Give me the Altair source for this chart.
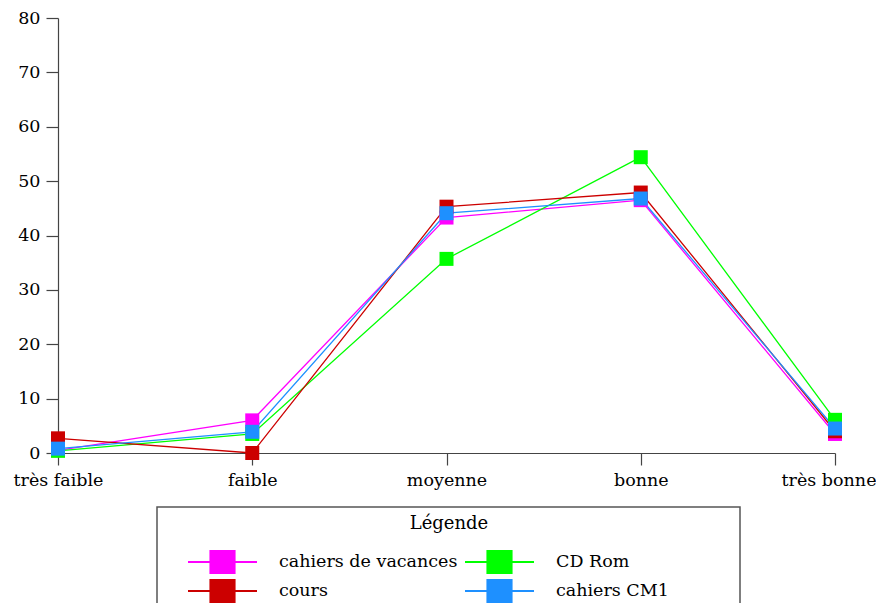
import altair as alt
import pandas as pd

categories = ["très faible", "faible", "moyenne", "bonne", "très bonne"]
legend_order = ["cahiers de vacances", "cours", "CD Rom", "cahiers CM1"]
legend_colors = ["#FF00FF", "#CC0000", "#00FF00", "#1E90FF"]
draw_order = ["cahiers de vacances", "CD Rom", "cours", "cahiers CM1"]
legend_title = ["Légende"]
vacances = [0.5, 6.0, 43.3, 46.5, 3.5]
cdrom = [0.4, 3.5, 35.7, 54.4, 6.1]
cours = [2.7, 0.0, 45.3, 47.9, 4.0]
cm1 = [0.8, 3.9, 44.1, 46.8, 4.5]

series_values = {
    "cahiers de vacances": vacances,
    "CD Rom": cdrom,
    "cours": cours,
    "cahiers CM1": cm1,
}
rows = []
for si, name in enumerate(draw_order):
    for cat, v in zip(categories, series_values[name]):
        rows.append({"niveau": cat, "série": name, "valeur": v, "ordre": si})
df = pd.DataFrame(rows)

FONT = "DejaVu Serif"
FS = 17.5
symbol_path = "M-1,0H1M-0.35,-0.35H0.35V0.35H-0.35Z"

color = alt.Color(
    "série:N",
    scale=alt.Scale(domain=legend_order, range=legend_colors),
    legend=alt.Legend(
        title=None,
        orient="none",
        legendX=129,
        legendY=532,
        columns=2,
        symbolType=symbol_path,
        symbolSize=4761,
        symbolStrokeWidth=2,
        clipHeight=24,
        rowPadding=5,
        columnPadding=6,
        labelOffset=21,
        padding=0,
        labelFont=FONT,
        labelFontSize=FS,
        labelColor="#000000",
        labelLimit=400,
    ),
)

x = alt.X(
    "niveau:N",
    sort=categories,
    scale=alt.Scale(type="point", padding=0),
    axis=alt.Axis(
        title=None,
        labelAngle=0,
        labelFont=FONT,
        labelFontSize=FS,
        labelColor="#000000",
        labelPadding=6,
        labelAlign=alt.condition("datum.label == 'très bonne'", alt.value("right"), alt.value("center")),
        labelOffset=alt.condition("datum.label == 'très bonne'", alt.value(41), alt.value(0)),
        tickSize=12,
        tickColor="#444444",
        domainColor="#444444",
        grid=False,
    ),
)
y = alt.Y(
    "valeur:Q",
    scale=alt.Scale(domain=[0, 80], nice=False),
    axis=alt.Axis(
        title=None,
        values=[0, 10, 20, 30, 40, 50, 60, 70, 80],
        labelFont=FONT,
        labelFontSize=FS,
        labelColor="#000000",
        labelPadding=6,
        tickSize=12,
        tickColor="#444444",
        domainColor="#444444",
        grid=False,
    ),
)

lines = alt.Chart(df).mark_line(strokeWidth=1.3).encode(
    x=x, y=y, color=color, order=alt.Order("ordre:Q")
)
points = alt.Chart(df).mark_point(shape="square", filled=True, size=196, opacity=1).encode(
    x=x, y=y, color=color, order=alt.Order("ordre:Q")
)
legend_box = alt.Chart(pd.DataFrame({"box": [0]})).mark_rect(
    fill=None, stroke="#555555", strokeWidth=1.5
).encode(
    x=alt.value(99), x2=alt.value(682), y=alt.value(489), y2=alt.value(640)
)
title_text = alt.Chart(pd.DataFrame({"t": legend_title})).mark_text(
    font=FONT, fontSize=18, color="#000000", align="center", baseline="middle"
).encode(
    text="t:N", x=alt.value(391), y=alt.value(506)
)

chart = (
    alt.layer(legend_box, title_text, lines, points)
    .properties(
        width=777,
        height=435,
        padding={"left": 50, "top": 10, "right": 41, "bottom": 150},
        autosize=alt.AutoSizeParams(type="none"),
    )
    .configure_view(stroke=None)
    .configure_axis(domainWidth=1.2, tickWidth=1.2)
)

chart.save("out.html", embed_options={"renderer": "svg", "actions": False})
